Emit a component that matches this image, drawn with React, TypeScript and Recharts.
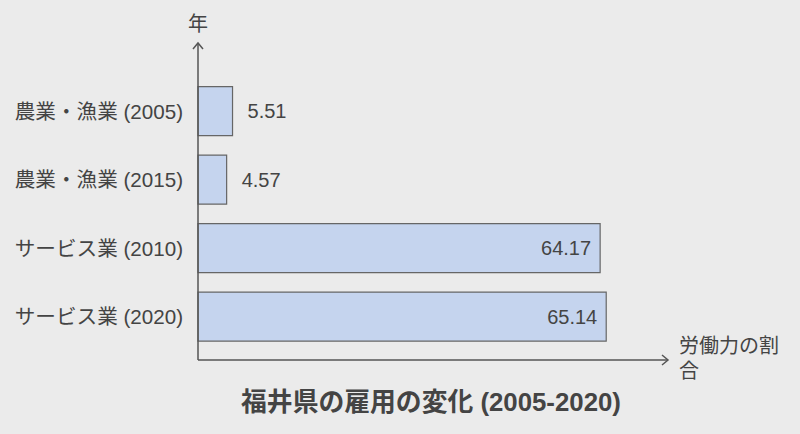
import { BarChart, Bar, XAxis, YAxis, LabelList } from "recharts";

const categories = [
  "農業・漁業 (2005)",
  "農業・漁業 (2015)",
  "サービス業 (2010)",
  "サービス業 (2020)",
];
const shares = [5.51, 4.57, 64.17, 65.14];
const xDomain = [0, 75];

const data = categories.map((name, i) => ({ name, value: shares[i] }));

const FONT = "'Liberation Sans', 'Noto Sans CJK JP', sans-serif";
const TEXT = "#444";
const LINE = "#555";

function YTitle(props: any) {
  const { x, y, width, height } = props.viewBox;
  const ax = x + width;
  const top = y - 34;
  return (
    <g>
      <line x1={ax} y1={top} x2={ax} y2={y + height + 9} stroke={LINE} strokeWidth={1.5} />
      <polyline
        points={`${ax - 5},${top + 6} ${ax},${top} ${ax + 5},${top + 6}`}
        fill="none"
        stroke={LINE}
        strokeWidth={1.5}
      />
      <text x={ax} y={top - 12} textAnchor="middle" fill={TEXT} fontSize={20} fontFamily={FONT}>
        年
      </text>
    </g>
  );
}

function XTitle(props: any) {
  const { x, y, width } = props.viewBox;
  const axisY = y + 9;
  const end = x + width;
  return (
    <g>
      <line x1={x} y1={axisY} x2={end} y2={axisY} stroke={LINE} strokeWidth={1.5} />
      <polyline
        points={`${end - 6},${axisY - 5} ${end},${axisY} ${end - 6},${axisY + 5}`}
        fill="none"
        stroke={LINE}
        strokeWidth={1.5}
      />
      <text x={end + 11} y={axisY - 7} fill={TEXT} fontSize={20} fontFamily={FONT}>
        労働力の割
      </text>
      <text x={end + 11} y={axisY + 18} fill={TEXT} fontSize={20} fontFamily={FONT}>
        合
      </text>
      <text
        x={x + width / 2 - 2}
        y={axisY + 51}
        textAnchor="middle"
        fill={TEXT}
        fontSize={25.8}
        fontWeight="bold"
        fontFamily={FONT}
      >
        福井県の雇用の変化 (2005-2020)
      </text>
    </g>
  );
}

function CategoryTick(props: any) {
  const { x, y, payload } = props;
  return (
    <text
      x={x - 15}
      y={y}
      dy="0.36em"
      textAnchor="end"
      fill={TEXT}
      fontSize={20.6}
      fontFamily={FONT}
    >
      {payload.value}
    </text>
  );
}

function ValueLabel(props: any) {
  const { x, y, width, height, value } = props;
  const inside = value > 20;
  return (
    <text
      x={inside ? x + width - 9 : x + width + 15}
      y={y + height / 2}
      dy="0.36em"
      textAnchor={inside ? "end" : "start"}
      fill={TEXT}
      fontSize={20}
      fontFamily={FONT}
    >
      {value}
    </text>
  );
}

export default function App() {
  return (
    <div
      style={{
        position: "absolute",
        left: 0,
        top: 0,
        width: 800,
        height: 434,
        background: "#ebebeb",
      }}
    >
      <BarChart
        width={800}
        height={434}
        data={data}
        layout="vertical"
        margin={{ top: 77, right: 132, left: 197, bottom: 82 }}
        barCategoryGap="14%"
      >
        <XAxis
          type="number"
          domain={xDomain}
          height={1}
          tick={false}
          tickLine={false}
          axisLine={false}
          label={<XTitle />}
        />
        <YAxis
          type="category"
          dataKey="name"
          width={1}
          axisLine={false}
          tickLine={false}
          tickSize={0}
          tickMargin={0}
          tick={<CategoryTick />}
          label={<YTitle />}
        />
        <Bar
          dataKey="value"
          fill="#c5d4ee"
          stroke="#666"
          strokeWidth={1.2}
          isAnimationActive={false}
        >
          <LabelList dataKey="value" content={<ValueLabel />} />
        </Bar>
      </BarChart>
    </div>
  );
}
